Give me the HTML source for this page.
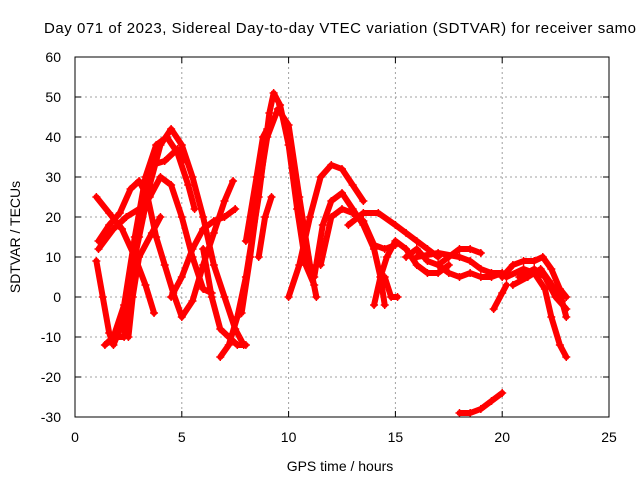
<!DOCTYPE html>
<html><head><meta charset="utf-8"><style>
body{margin:0;background:#fff}
svg{display:block;font-family:"Liberation Sans",sans-serif}
</style></head><body>
<svg id="chart" width="640" height="480" viewBox="0 0 640 480" xmlns="http://www.w3.org/2000/svg">
<rect width="640" height="480" fill="#fff"/>
<text x="44" y="33" font-size="15" textLength="592" lengthAdjust="spacing" fill="#000">Day 071 of 2023, Sidereal Day-to-day VTEC variation (SDTVAR) for receiver samo</text>
<g id="grid"></g><g id="series"></g><g id="axes"></g>
<text x="340" y="471" font-size="14" text-anchor="middle">GPS time / hours</text>
<text transform="translate(20,237) rotate(-90)" font-size="14" text-anchor="middle">SDTVAR / TECUs</text>
</svg>
<script>
const xTicks=[0,5,10,15,20,25];
const yTicks=[-30,-20,-10,0,10,20,30,40,50,60];
const tracks=[
[[1.0,25],[1.6,21],[2.2,17],[2.8,10],[3.3,3],[3.7,-4]],
[[1.0,9],[1.3,0],[1.6,-9],[1.8,-12],[2.1,-8],[2.6,5],[3.0,15],[3.5,28],[4.0,38],[4.5,42],[5.0,38],[5.5,30],[6.0,20],[6.5,8],[7.0,0],[7.5,-8],[7.9,-12]],
[[1.1,14],[1.6,18],[2.1,21],[2.6,27],[3.0,29],[3.4,25],[3.8,15],[4.2,8],[4.6,1],[5.0,-5],[5.5,-1],[6.0,8],[6.5,16],[7.0,24],[7.4,29]],
[[1.1,12],[1.8,17],[2.4,20],[3.0,22],[3.5,25],[4.0,30],[4.5,28],[5.0,20],[5.5,10],[6.0,2],[6.4,1]],
[[1.4,-12],[1.8,-10],[2.3,-2],[2.8,15],[3.3,30],[3.8,38],[4.3,40],[4.8,36],[5.3,28],[5.6,22]],
[[2.0,-10],[2.3,-10],[2.5,0],[2.8,10],[3.2,25],[3.6,33],[4.2,34],[4.8,37],[5.2,34]],
[[2.5,-10],[2.7,0],[3.0,10],[3.6,16],[4.0,20]],
[[4.5,0],[5.0,5],[5.5,12],[6.0,17],[6.5,19],[7.0,20],[7.5,22]],
[[6.0,12],[6.4,0],[6.8,-8],[7.2,-10],[7.6,-12],[8.0,-12]],
[[6.8,-15],[7.2,-12],[7.6,-5],[8.0,5],[8.6,25],[9.1,46],[9.3,51],[9.6,48],[10.0,38],[10.4,22],[10.8,8],[11.2,3]],
[[7.8,-4],[8.2,10],[8.7,30],[9.0,40],[9.5,47],[10.0,43],[10.5,25],[11.0,8],[11.3,0]],
[[8.6,10],[8.9,20],[9.2,25]],
[[8.0,14],[8.5,30],[8.8,40],[9.0,42]],
[[10.0,0],[10.5,8],[11.0,20],[11.5,30],[12.0,33],[12.5,32],[13.0,28],[13.5,24]],
[[11.2,5],[11.6,18],[12.0,24],[12.5,26],[13.0,22],[13.5,18],[14.0,12],[14.3,5],[14.5,-2]],
[[11.5,8],[12.0,20],[12.5,22],[13.0,21],[13.5,19],[14.0,13],[14.5,12],[15.0,13]],
[[12.8,18],[13.5,21],[14.2,21],[15.0,18],[15.5,16],[16.0,14],[16.5,12],[17.0,10]],
[[14.0,-2],[14.3,5],[14.6,10],[15.0,14],[15.5,12],[16.0,8],[16.5,6],[17.0,6],[17.5,8]],
[[14.5,5],[14.8,0],[15.1,0]],
[[16.0,10],[17.0,11],[18.0,10],[18.5,9],[19.0,7],[19.5,6],[20.0,6]],
[[17.0,8],[17.5,10],[18.0,12],[18.5,12],[19.0,11]],
[[15.5,10],[16.0,12],[16.5,9],[17.0,8],[17.5,6],[18.0,5],[18.5,6],[19.0,5],[19.5,5],[20.0,6]],
[[18.0,-29],[18.5,-29],[19.0,-28],[19.5,-26],[20.0,-24]],
[[19.6,-3],[20.0,1],[20.2,3]],
[[20.0,5],[20.5,8],[21.0,9],[21.5,9],[21.9,10],[22.3,7],[22.7,2],[23.0,0]],
[[20.2,5],[21.0,7],[21.5,6],[22.0,2],[22.3,-5],[22.7,-12],[23.0,-15]],
[[20.8,5],[21.5,7],[22.0,5],[22.5,0],[23.0,-3]],
[[20.5,3],[21.2,5],[21.8,7],[22.2,4],[22.8,-1],[23.0,-5]]
];
const NS="http://www.w3.org/2000/svg";
const X0=75,X1=609,Y0=417,Y1=57;
const sx=t=>X0+(t-0)/(25-0)*(X1-X0);
const sy=v=>Y0-(v+30)/(90)*(Y0-Y1);
function mk(tag,attrs,parent){const e=document.createElementNS(NS,tag);for(const k in attrs)e.setAttribute(k,attrs[k]);parent.appendChild(e);return e;}
const grid=document.getElementById('grid'),axes=document.getElementById('axes'),ser=document.getElementById('series');
xTicks.forEach(t=>{
 const x=sx(t);
 if(t>0&&t<25){const g=mk('line',{x1:x,x2:x,y1:Y1,y2:Y0,stroke:'#a0a0a0','stroke-dasharray':'2,3'},grid);
 
 }
 mk('line',{x1:x,x2:x,y1:Y0,y2:Y0-6,stroke:'#000'},axes);
 mk('line',{x1:x,x2:x,y1:Y1,y2:Y1+6,stroke:'#000'},axes);
 const l=mk('text',{x:x,y:Y0+25,'font-size':14,'text-anchor':'middle'},axes);l.textContent=t;
 
 
});
yTicks.forEach(v=>{
 const y=sy(v);
 if(v>-30&&v<60){const g=mk('line',{x1:X0,x2:X1,y1:y,y2:y,stroke:'#a0a0a0','stroke-dasharray':'2,3'},grid);
 
 }
 mk('line',{x1:X0,x2:X0+6,y1:y,y2:y,stroke:'#000'},axes);
 mk('line',{x1:X1,x2:X1-6,y1:y,y2:y,stroke:'#000'},axes);
 const l=mk('text',{x:X0-14,y:y+5,'font-size':14,'text-anchor':'end'},axes);l.textContent=v;
 
 
});
const fr=mk('rect',{x:X0,y:Y1,width:X1-X0,height:Y0-Y1,fill:'none',stroke:'#000'},axes);


tracks.forEach((tr,i)=>{
 const g=mk('g',{},ser);
 
 
 mk('polyline',{points:tr.map(p=>sx(p[0])+','+sy(p[1])).join(' '),fill:'none',stroke:'#f00','stroke-width':6,'stroke-linejoin':'round','stroke-linecap':'round'},g);
 tr.forEach(p=>{const x=sx(p[0]),y=sy(p[1]);
  mk('path',{d:`M${x-4},${y}H${x+4}M${x},${y-4}V${y+4}`,stroke:'#f00','stroke-width':1.5},g);});
});
</script>
</body></html>
